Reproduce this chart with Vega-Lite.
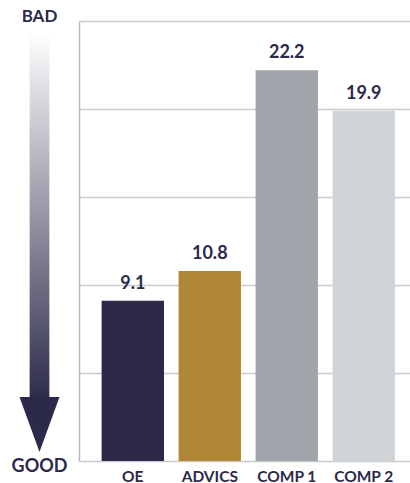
{
  "$schema": "https://vega.github.io/schema/vega-lite/v6.json",
  "padding": {"left": 0, "top": 8, "right": 0, "bottom": 0},
  "spacing": 0,
  "bounds": "flush",
  "config": {"view": {"stroke": null}, "font": "Lato"},
  "hconcat": [
    {
      "width": 79,
      "height": 440,
      "layer": [
        {
          "data": {"values": [{"part": "shaft"}]},
          "mark": {
            "type": "rect",
            "color": {
              "gradient": "linear",
              "x1": 0, "y1": 0, "x2": 0, "y2": 1,
              "stops": [
                {"offset": 0, "color": "#ffffff"},
                {"offset": 1, "color": "#2c2a4a"}
              ]
            }
          },
          "encoding": {
            "x": {"datum": -0.25, "type": "quantitative", "scale": {"domain": [-1, 1]}, "axis": null},
            "x2": {"datum": 0.25},
            "y": {"datum": 24.4, "type": "quantitative", "scale": {"domain": [0, 25]}, "axis": null},
            "y2": {"datum": 3.4}
          }
        },
        {
          "data": {"values": [{"part": "head"}]},
          "mark": {
            "type": "point",
            "shape": "M-0.727,-1L0.727,-1L0,1Z",
            "size": 3025,
            "filled": true,
            "opacity": 1,
            "strokeWidth": 0,
            "color": "#2c2a4a"
          },
          "encoding": {
            "x": {"datum": 0, "type": "quantitative", "scale": {"domain": [-1, 1]}, "axis": null},
            "y": {"datum": 2.07, "type": "quantitative", "scale": {"domain": [0, 25]}, "axis": null}
          }
        },
        {
          "data": {"values": [{"label": "BAD"}]},
          "mark": {"type": "text", "fontWeight": "bold", "fontSize": 17, "color": "#2c2a4a", "baseline": "middle"},
          "encoding": {
            "x": {"datum": 0, "type": "quantitative", "scale": {"domain": [-1, 1]}, "axis": null},
            "y": {"datum": 25.2, "type": "quantitative", "scale": {"domain": [0, 25]}, "axis": null},
            "text": {"field": "label"}
          }
        },
        {
          "data": {"values": [{"label": "GOOD"}]},
          "mark": {"type": "text", "fontWeight": "bold", "fontSize": 18, "color": "#2c2a4a", "baseline": "middle"},
          "encoding": {
            "x": {"datum": 0, "type": "quantitative", "scale": {"domain": [-1, 1]}, "axis": null},
            "y": {"datum": -0.34, "type": "quantitative", "scale": {"domain": [0, 25]}, "axis": null},
            "text": {"field": "label"}
          }
        }
      ]
    },
    {
      "width": 331,
      "height": 440,
      "data": {
        "values": [
          {"name": "OE", "value": 9.1},
          {"name": "ADVICS", "value": 10.8},
          {"name": "COMP 1", "value": 22.2},
          {"name": "COMP 2", "value": 19.9}
        ]
      },
      "encoding": {
        "x": {
          "field": "name", "type": "nominal", "sort": null,
          "scale": {"paddingInner": 0.19, "paddingOuter": 0.245, "align": 0.6},
          "axis": {"title": null, "labelAngle": 0, "ticks": false, "domain": false, "labelFontSize": 15.5, "labelFontWeight": "bold", "labelColor": "#2c2a4a", "labelPadding": 8}
        },
        "y": {
          "field": "value", "type": "quantitative",
          "scale": {"domain": [0, 25]},
          "axis": {"title": null, "labels": false, "ticks": false, "values": [0, 5, 10, 15, 20, 25], "gridColor": "#cbcbcf", "gridWidth": 1.5, "domainColor": "#b8b8bd", "domainWidth": 1.5}
        }
      },
      "layer": [
        {
          "mark": {"type": "bar"},
          "encoding": {
            "color": {
              "field": "name", "type": "nominal",
              "scale": {"domain": ["OE", "ADVICS", "COMP 1", "COMP 2"], "range": ["#2c2948", "#b28637", "#9fa5ab", "#d1d4d7"]},
              "legend": null
            }
          }
        },
        {
          "mark": {"type": "text", "dy": -12, "baseline": "alphabetic", "fontSize": 18, "fontWeight": "bold", "color": "#2c2a4a"},
          "encoding": {"text": {"field": "value", "type": "quantitative", "format": ".1f"}}
        }
      ]
    }
  ]
}
